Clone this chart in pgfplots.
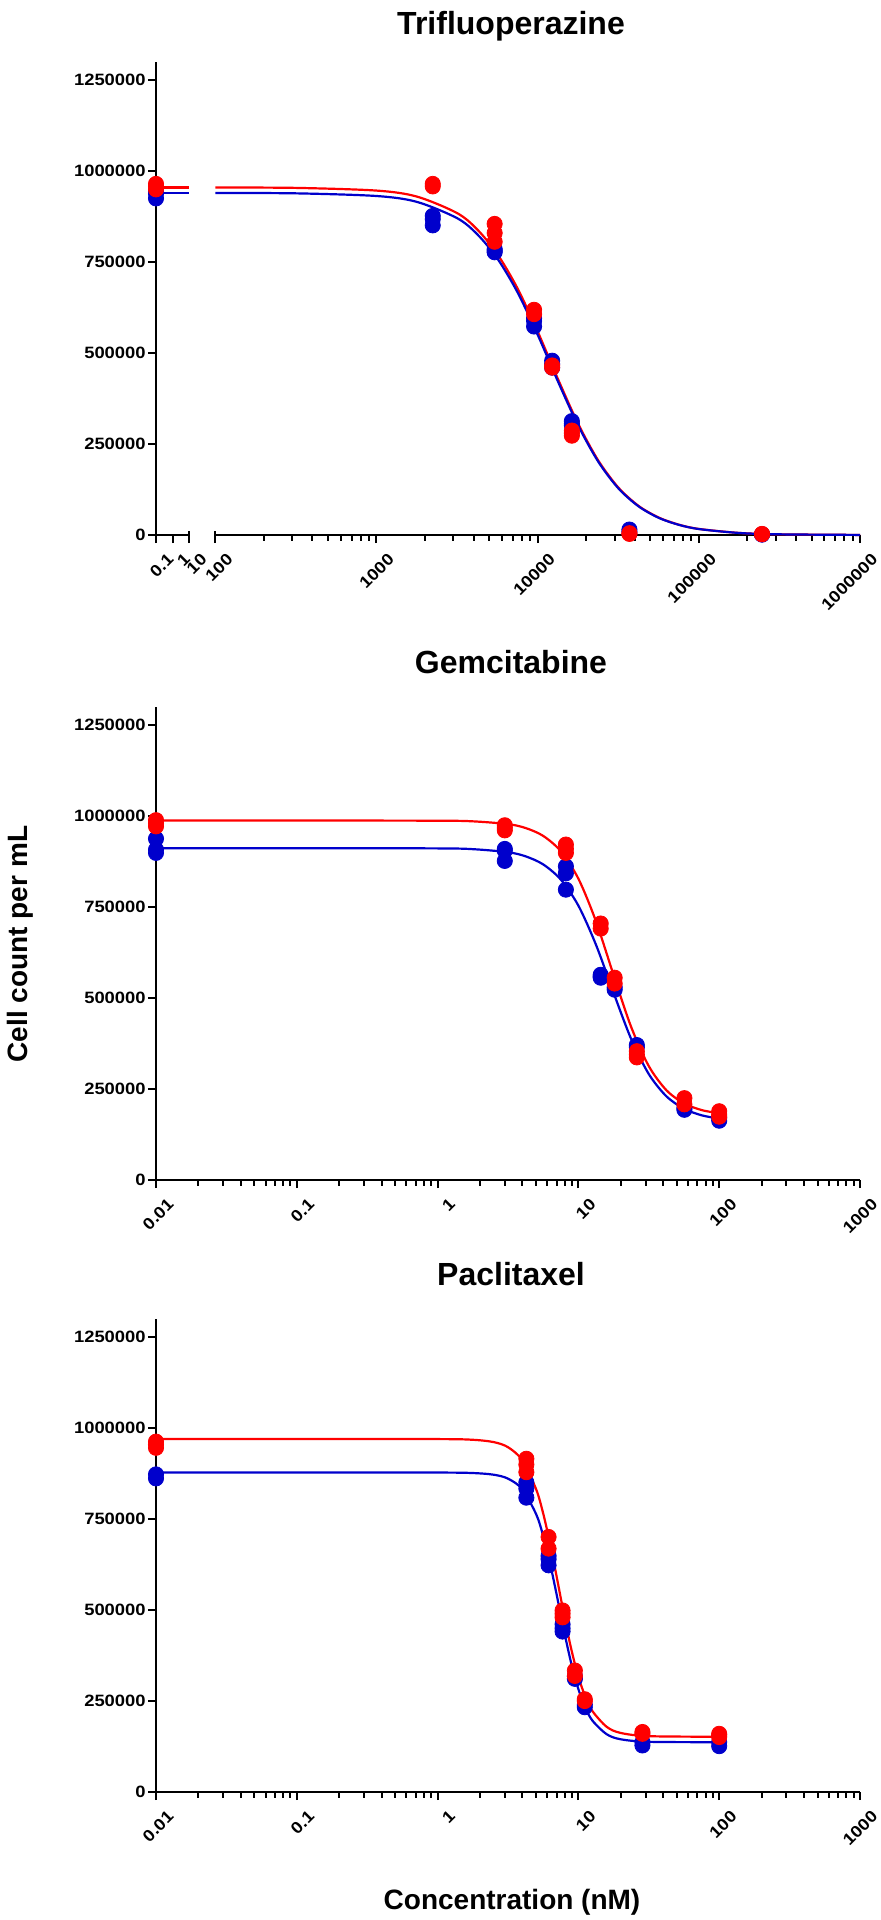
\documentclass[border=0pt]{standalone}
\usepackage{fontspec}
\setmainfont{Liberation Sans}
\newfontfamily\tickfont[FakeStretch=1.12]{Liberation Sans}
\usepackage{pgfplots}
\usepackage{pgfplotstable}
\pgfplotsset{compat=1.18}
\definecolor{cred}{RGB}{255,0,0}
\definecolor{cblue}{RGB}{0,0,204}

% ---------- Trifluoperazine ----------
\pgfplotstableread{
x y
0.1 925000
0.1 938000
0.1 945000
}\tfBlueA
\pgfplotstableread{
x y
0.1 950000
0.1 958000
0.1 965000
}\tfRedA
\pgfplotstableread{
x y
2234 877000
2234 851000
2234 868000
5410 786000
5410 777000
5410 781000
9500 596000
9500 573000
9500 588000
12300 479000
12300 460000
12300 470000
16300 313000
16300 301000
16300 306000
37100 15000
37100 9000
246600 1000
246600 2000
}\tfBlueB
\pgfplotstableread{
x y
2234 965000
2234 958000
5410 855000
5410 830000
5410 806000
9500 619000
9500 607000
12300 466000
12300 460000
16300 287000
16300 273000
16300 280000
37100 3000
37100 5000
246600 2000
246600 3000
}\tfRedB
\pgfplotstableread{
x b r
0.1 940000 955000
10 940000 955000
}\tfFitA
\pgfplotstableread{
x b r
100 940000 955000
316 939000 954000
1000 931700 946600
1778 915600 930200
3162 870900 884800
4217 826600 839800
5623 759900 772000
7499 667100 677800
10000 550400 559200
13335 422900 429600
17783 302000 306800
23714 202200 205400
31623 128600 130700
42170 79100 80300
56234 47400 48200
75000 28100 28500
100000 16400 16700
177828 5570 5700
316228 1870 1900
1000000 210 210
}\tfFitB

% ---------- Gemcitabine ----------
\pgfplotstableread{
x y
0.01 938000
0.01 908000
0.01 899000
3 910000
3 877000
3 905000
8.15 862000
8.15 843000
8.15 798000
14.4 564000
14.4 556000
14.4 560000
18.1 523000
18.1 530000
26 371000
26 365000
56.6 193000
56.6 198000
100 163000
100 171000
}\gmBlue
\pgfplotstableread{
x y
0.01 989000
0.01 972000
0.01 980000
3 975000
3 961000
3 968000
8.15 922000
8.15 899000
8.15 910000
14.4 705000
14.4 691000
18.1 556000
18.1 540000
26 354000
26 337000
26 345000
56.6 225000
56.6 208000
100 189000
100 174000
100 180000
}\gmRed
\pgfplotstableread{
x b r
0.01 912000 988000
0.1 912000 988000
1 911400 987500
1.778 909300 985800
3.162 900900 978100
4.217 889600 967400
5.623 867400 945800
7.499 825700 903600
10 754000 828100
13.34 646300 710700
17.78 514400 563300
23.71 387500 420500
31.62 291200 313100
42.17 230100 246800
56.23 195900 210600
74.99 177900 192300
100 168800 183300
}\gmFit

% ---------- Paclitaxel ----------
\pgfplotstableread{
x y
0.01 873000
0.01 862000
4.27 851000
4.27 834000
4.27 809000
6.14 649000
6.14 623000
6.14 640000
7.72 461000
7.72 441000
7.72 450000
9.44 311000
9.44 318000
11.1 233000
11.1 240000
28.5 128000
28.5 137000
100 126000
100 137000
}\pcBlue
\pgfplotstableread{
x y
0.01 963000
0.01 946000
0.01 955000
4.27 916000
4.27 879000
4.27 900000
6.14 701000
6.14 669000
7.72 499000
7.72 480000
7.72 490000
9.44 334000
9.44 319000
11.1 255000
11.1 250000
28.5 165000
28.5 160000
100 160000
100 151000
100 156000
}\pcRed
\pgfplotstableread{
x b r
0.01 878000 970000
0.1 878000 970000
1 878000 970000
1.778 876700 968100
2.512 872000 961600
3.162 861300 947700
3.981 832900 912600
5.012 763500 831900
5.623 704000 765500
6.310 626000 680800
7.079 534300 583200
7.943 439200 483000
8.913 352500 391600
10 282500 316800
11.22 231200 261100
12.59 196100 222200
15.85 159100 179500
19.95 145000 162400
31.62 138000 153500
100 137000 152000
}\pcFit

\pgfplotsset{
  panel/.style={
    scale only axis, height=236.5pt,
    ymin=0, ymax=1300000,
    scaled y ticks=false,
    axis x line*=bottom, axis y line*=left,
    axis line style={line width=1.35pt,-},
    tick align=outside,
    major tick length=4pt,
    tick style={line width=1pt, black},
    ytick={0,250000,500000,750000,1000000,1250000},
    yticklabels={0,250000,500000,750000,1000000,1250000},
    tick label style={font=\tickfont\bfseries\fontsize{8.2}{9}\selectfont},
    yticklabel style={inner sep=0pt, xshift=-1pt},
    xticklabel style={rotate=45, anchor=east, inner sep=0pt, yshift=-10pt, xshift=0.5pt},
    extra x tick labels={},
    extra x tick style={major tick length=2pt},
    clip=false,
  },
  fitb/.style={cblue, line width=1.1pt, smooth},
  fitr/.style={cred, line width=1.1pt, smooth},
  dotb/.style={only marks, mark=*, mark size=3.8pt, cblue},
  dotr/.style={only marks, mark=*, mark size=3.8pt, cred},
}

\begin{document}
\begin{tikzpicture}
\path[use as bounding box] (0,0) rectangle (440.5pt,-960pt);

% ===== Top panel: Trifluoperazine (broken x axis) =====
\begin{axis}[xmode=log, panel, at={(78pt,-267.5pt)}, anchor=south west,
  width=16.65pt, xmin=0.1, xmax=10, minor tick length=0pt,
  xtick={0.1,1,10}, xticklabels={0.1,1,10}]
  \addplot[fitr] table[x=x,y=r]{\tfFitA};
  \addplot[fitb] table[x=x,y=b]{\tfFitA};
  \addplot[dotb] table[x=x,y=y]{\tfBlueA};
  \addplot[dotr] table[x=x,y=y]{\tfRedA};
  \draw[line width=1pt] ([yshift=2pt]axis cs:10,0) -- ([yshift=-3pt]axis cs:10,0);
\end{axis}
\begin{axis}[xmode=log, panel, at={(107.65pt,-267.5pt)}, anchor=south west,
  width=322.35pt, xmin=100, xmax=1000000,
  ytick=\empty, y axis line style={draw=none},
  xtick={100,1000,10000,100000,1000000},
  xticklabels={100,1000,10000,100000,1000000},
  extra x ticks={200,300,400,500,600,700,800,900,2000,3000,4000,5000,6000,7000,8000,9000,20000,30000,40000,50000,60000,70000,80000,90000,200000,300000,400000,500000,600000,700000,800000,900000}]
  \addplot[fitr] table[x=x,y=r]{\tfFitB};
  \addplot[fitb] table[x=x,y=b]{\tfFitB};
  \addplot[dotb] table[x=x,y=y]{\tfBlueB};
  \addplot[dotr] table[x=x,y=y]{\tfRedB};
  \draw[line width=1pt] ([yshift=2pt]axis cs:100,0) -- ([yshift=-3pt]axis cs:100,0);
\end{axis}
\node[anchor=base, font=\bfseries\fontsize{16}{19}\selectfont] at (255.5pt,-17.5pt) {Trifluoperazine};

% ===== Middle panel: Gemcitabine =====
\begin{axis}[xmode=log, panel, at={(78pt,-590pt)}, anchor=south west,
  width=352pt, xmin=0.01, xmax=1000,
  xtick={0.01,0.1,1,10,100,1000}, xticklabels={0.01,0.1,1,10,100,1000},
  extra x ticks={0.02,0.03,0.04,0.05,0.06,0.07,0.08,0.09,0.2,0.3,0.4,0.5,0.6,0.7,0.8,0.9,2,3,4,5,6,7,8,9,20,30,40,50,60,70,80,90,200,300,400,500,600,700,800,900}]
  \addplot[fitr] table[x=x,y=r]{\gmFit};
  \addplot[fitb] table[x=x,y=b]{\gmFit};
  \addplot[dotb] table[x=x,y=y]{\gmBlue};
  \addplot[dotr] table[x=x,y=y]{\gmRed};
\end{axis}
\node[anchor=base, font=\bfseries\fontsize{16}{19}\selectfont] at (255.5pt,-336.8pt) {Gemcitabine};

% ===== Bottom panel: Paclitaxel =====
\begin{axis}[xmode=log, panel, at={(78pt,-896pt)}, anchor=south west,
  width=352pt, xmin=0.01, xmax=1000,
  xtick={0.01,0.1,1,10,100,1000}, xticklabels={0.01,0.1,1,10,100,1000},
  extra x ticks={0.02,0.03,0.04,0.05,0.06,0.07,0.08,0.09,0.2,0.3,0.4,0.5,0.6,0.7,0.8,0.9,2,3,4,5,6,7,8,9,20,30,40,50,60,70,80,90,200,300,400,500,600,700,800,900}]
  \addplot[fitr] table[x=x,y=r]{\pcFit};
  \addplot[fitb] table[x=x,y=b]{\pcFit};
  \addplot[dotb] table[x=x,y=y]{\pcBlue};
  \addplot[dotr] table[x=x,y=y]{\pcRed};
\end{axis}
\node[anchor=base, font=\bfseries\fontsize{16}{19}\selectfont] at (255.5pt,-642.5pt) {Paclitaxel};

% ===== Shared labels =====
\node[rotate=90, anchor=base, font=\bfseries\fontsize{14}{17}\selectfont] at (13.5pt,-472pt) {Cell count per mL};
\node[anchor=base, font=\bfseries\fontsize{14}{17}\selectfont] at (256pt,-954.5pt) {Concentration (nM)};
\end{tikzpicture}
\end{document}
